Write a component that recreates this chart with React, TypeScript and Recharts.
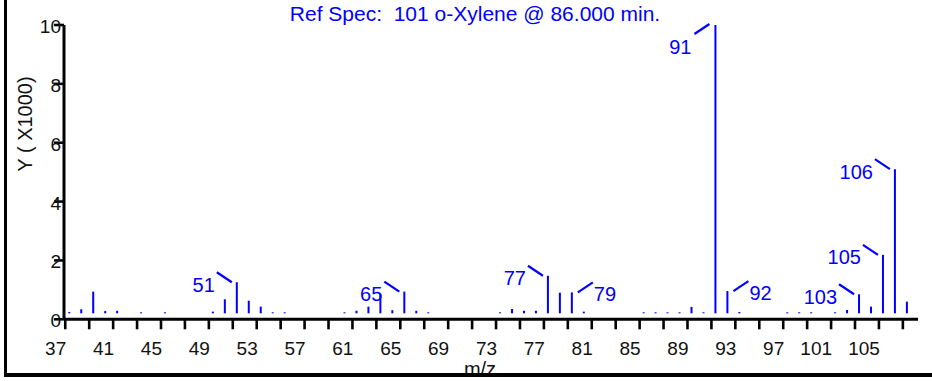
import React from 'react';
import { BarChart, Bar, XAxis, YAxis } from 'recharts';

const massToCharge = [37, 38, 39, 40, 41, 43, 45, 49, 50, 51, 52, 53, 54, 55, 60, 61, 62, 63, 64, 65, 66, 67, 73, 74, 75, 76, 77, 78, 79, 80, 85, 86, 87, 88, 89, 90, 91, 92, 93, 97, 98, 99, 101, 102, 103, 104, 105, 106, 107, 108];
const abundance = [250, 340, 940, 280, 290, 220, 220, 260, 680, 1260, 630, 430, 220, 220, 220, 290, 430, 850, 310, 940, 290, 220, 220, 350, 290, 290, 1480, 905, 915, 260, 220, 220, 220, 230, 420, 220, 10000, 960, 250, 220, 220, 220, 230, 316, 850, 430, 2190, 5100, 600, 220];

const xTickValues = [37, 39, 41, 43, 45, 47, 49, 51, 53, 55, 57, 59, 61, 63, 65, 67, 69, 71, 73, 75, 77, 79, 81, 83, 85, 87, 89, 91, 93, 95, 97, 99, 101, 103, 105, 107];
const xTickLabels = [37, 41, 45, 49, 53, 57, 61, 65, 69, 73, 77, 81, 85, 89, 93, 97, 101, 105];
const yTickValues = [0, 2000, 4000, 6000, 8000, 10000];

const annotatedPeaks = [51, 65, 77, 79, 91, 92, 103, 105, 106];
const annotationSides = ['left', 'left', 'left', 'right', 'below', 'right', 'left', 'left', 'left'];

const title = 'Ref Spec:  101 o-Xylene @ 86.000 min.';
const xAxisTitle = 'm/z';
const yAxisTitle = 'Y ( X1000)';

const data = massToCharge.map((mz, i) => ({ mz, abundance: abundance[i] }));

const BLUE = '#0000FF';
const FONT = '"Liberation Sans", Arial, sans-serif';

const PeakShape = (props: any) => {
  const { x, y, width, height, index } = props;
  const mz = props.payload?.mz ?? data[index]?.mz;
  const cx = x + width / 2;
  const base = y + height - 6;
  const top = Math.min(y, base - 1);
  const ai = annotatedPeaks.indexOf(mz);
  let annotation: React.ReactNode = null;
  if (ai >= 0) {
    const side = annotationSides[ai];
    const lineStyle = { stroke: BLUE, strokeWidth: 2.2 };
    if (side === 'left') {
      annotation = (
        <g>
          <line x1={cx - 20} y1={top - 10} x2={cx - 5} y2={top} {...lineStyle} />
          <text x={cx - 22} y={top + 9.5} textAnchor="end" fontSize={20} fill={BLUE} fontFamily={FONT}>{mz}</text>
        </g>
      );
    } else if (side === 'right') {
      annotation = (
        <g>
          <line x1={cx + 6} y1={top} x2={cx + 21} y2={top - 10} {...lineStyle} />
          <text x={cx + 22} y={top + 9} textAnchor="start" fontSize={20} fill={BLUE} fontFamily={FONT}>{mz}</text>
        </g>
      );
    } else {
      annotation = (
        <g>
          <line x1={cx - 21} y1={top + 9} x2={cx - 6} y2={top - 1} {...lineStyle} />
          <text x={cx - 24} y={top + 29} textAnchor="end" fontSize={20} fill={BLUE} fontFamily={FONT}>{mz}</text>
        </g>
      );
    }
  }
  return (
    <g>
      <rect x={cx - 1} y={top} width={2} height={base - top} fill={BLUE} />
      {annotation}
    </g>
  );
};

const XTick = (props: any) => {
  const { x, y, payload } = props;
  const v = payload.value;
  const tx = x - 4;
  return (
    <g>
      <line x1={tx} y1={y} x2={tx} y2={y + 10} stroke="#000" strokeWidth={2.6} />
      {xTickLabels.includes(v) && (
        <text x={tx + 1} y={y + 35.5} textAnchor="end" fontSize={19} fill="#111" fontFamily={FONT}>{v}</text>
      )}
    </g>
  );
};

const YTick = (props: any) => {
  const { x, y, payload } = props;
  return (
    <g>
      <line x1={x - 10} y1={y} x2={x} y2={y} stroke="#000" strokeWidth={2.6} />
      <text x={x - 3} y={y + 8} textAnchor="end" fontSize={19} fill="#111" fontFamily={FONT}>{payload.value / 1000}</text>
    </g>
  );
};

export default function App() {
  return (
    <div style={{ position: 'fixed', left: 0, top: 0, width: 932, height: 381, background: '#fff' }}>
      <BarChart
        width={932}
        height={381}
        data={data}
        margin={{ top: 25, right: 14, bottom: 0, left: 0 }}
      >
        <XAxis
          dataKey="mz"
          type="number"
          domain={[36.56, 107.93]}
          ticks={xTickValues}
          interval={0}
          allowDataOverflow
          tickLine={false}
          tickSize={0}
          tickMargin={0}
          height={61.7}
          axisLine={{ stroke: '#000', strokeWidth: 3 }}
          tick={<XTick />}
        />
        <YAxis
          type="number"
          domain={[0, 10000]}
          ticks={yTickValues}
          interval={0}
          width={64}
          tickLine={false}
          tickSize={0}
          tickMargin={0}
          axisLine={{ stroke: '#000', strokeWidth: 3 }}
          tick={<YTick />}
        />
        <Bar dataKey="abundance" barSize={2} fill={BLUE} shape={<PeakShape />} isAnimationActive={false} />
      </BarChart>
      <svg width={932} height={381} style={{ position: 'absolute', left: 0, top: 0, pointerEvents: 'none' }}>
        <text x={475} y={20.5} textAnchor="middle" fontSize={21} fill={BLUE} fontFamily={FONT} style={{ whiteSpace: 'pre' }}>{title}</text>
        <text x={0} y={0} transform="translate(32,124) rotate(-90)" textAnchor="middle" fontSize={20} fill="#111" fontFamily={FONT}>{yAxisTitle}</text>
        <text x={480} y={376} textAnchor="middle" fontSize={20} fill="#111" fontFamily={FONT}>{xAxisTitle}</text>
        <rect x={4} y={0} width={3} height={377} fill="#000" />
        <rect x={4} y={373} width={928} height={4} fill="#000" />
      </svg>
    </div>
  );
}
